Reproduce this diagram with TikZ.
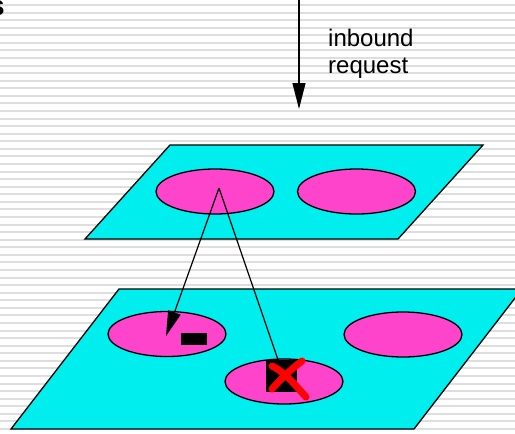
\documentclass[tikz,border=0pt]{standalone}
\usepackage{fontspec}
\setmainfont{Liberation Sans}
\usetikzlibrary{arrows.meta,shapes.geometric}
\definecolor{planecyan}{RGB}{0,238,238}
\definecolor{ovalpink}{RGB}{255,68,204}
\definecolor{stripegray}{RGB}{222,222,222}
\definecolor{xred}{RGB}{255,0,0}
\tikzset{
  plane/.style={fill=planecyan,draw=black,line width=1.3pt,line join=miter},
  oval/.style={ellipse,fill=ovalpink,draw=black,line width=1.3pt,minimum width=118pt,minimum height=45pt,inner sep=0pt},
  conn/.style={draw=black,line width=1.2pt},
  headarrow/.style={-{Triangle[length=25pt,width=13pt]}},
  blk/.style={fill=black,draw=none,inner sep=0pt},
  xstroke/.style={draw=xred,line width=7pt,line cap=round},
  lbl/.style={font={\fontsize{24}{27}\selectfont},align=left,inner sep=0pt}
}
\begin{document}
\begin{tikzpicture}[x=1pt,y=-1pt]
\useasboundingbox (0,0) rectangle (515,434);
\fill[white] (0,0) rectangle (515,434);
% striped background
\foreach \i in {0,...,57}{
  \draw[stripegray,line width=2pt] (0,{5+7.57*\i}) -- (515,{5+7.57*\i});
}
% cut-off text at top left
\node[font={\fontsize{28}{30}\selectfont\bfseries},anchor=base east,inner sep=0pt] (cut) at (5,15) {s};
% inbound arrow
\coordinate (inTop) at (299,-2);
\coordinate (inTip) at (299,109);
\draw[conn,-{Triangle[length=26pt,width=13pt]}] (inTop) -- (inTip);
\node[lbl,anchor=north west] (inlabel) at (328,29) {inbound\\request};
% upper plane
\draw[plane] (170,145) -- (483,145) -- (398,239) -- (85,239) -- cycle;
\node[oval] (u1) at (215,191.5) {};
\node[oval] (u2) at (356.5,191.5) {};
% lower plane
\draw[plane] (119,289) -- (522,289) -- (414,429) -- (11,429) -- cycle;
\node[oval] (l1) at (167,334) {};
\node[oval] (l2) at (403,334.5) {};
\node[oval] (l3) at (284,381.5) {};
% blocks
\node[blk,minimum width=26pt,minimum height=12pt] (blkA) at (194,339) {};
\node[blk,minimum width=31pt,minimum height=32pt] (blkB) at (281.5,376) {};
% connectors
\coordinate (apex) at (219,188);
\coordinate (tipA) at (166,336);
\draw[conn,headarrow] (apex) -- (tipA);
\draw[conn] (apex) -- (blkB.north -| 278,0);
% red cross
\draw[xstroke] (272,366) .. controls (285,372) and (295,385) .. (306,397);
\draw[xstroke] (302,361) .. controls (290,370) and (280,380) .. (272,389);
\end{tikzpicture}
\end{document}
